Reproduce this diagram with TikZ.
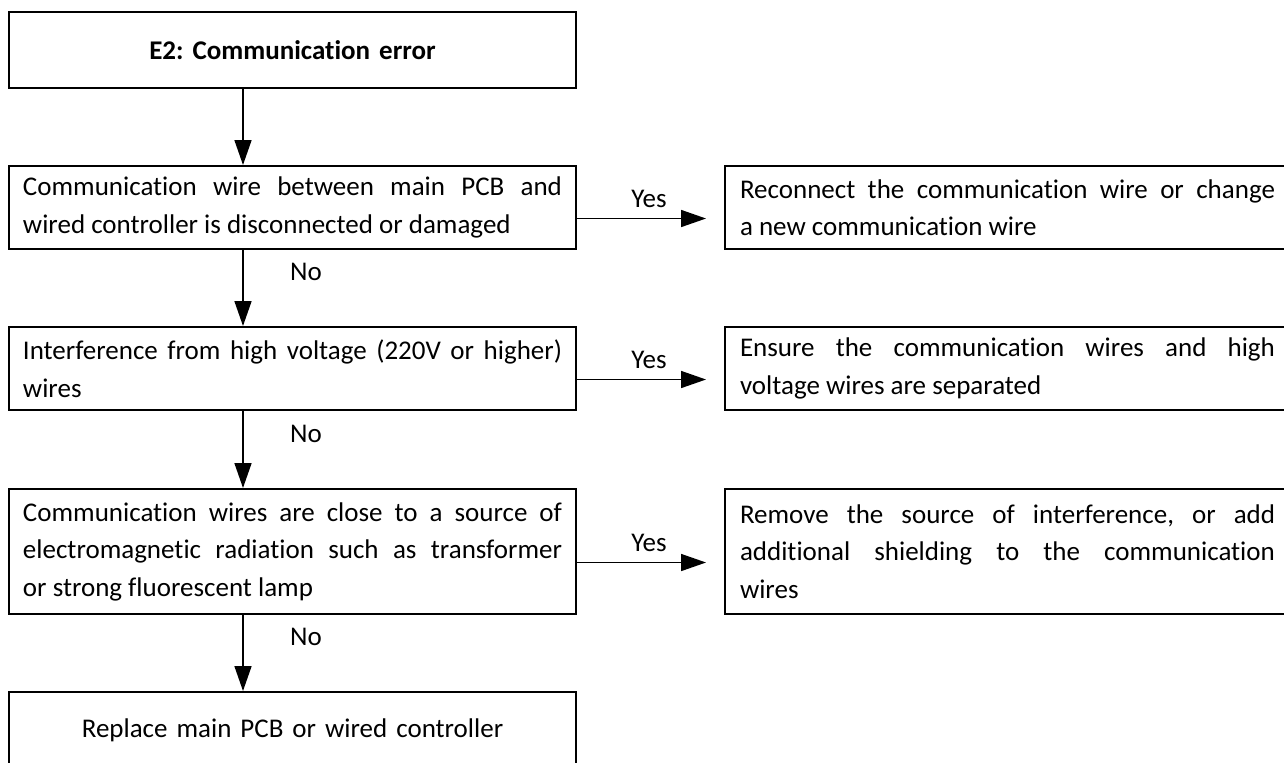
\documentclass[tikz,border=0pt]{standalone}
\usepackage{fontspec}
\setmainfont[Ligatures=NoCommon]{Carlito}
\usetikzlibrary{arrows.meta}
\frenchspacing
\hyphenpenalty=10000
\exhyphenpenalty=10000

\begin{document}
\begin{tikzpicture}[x=0.5pt,y=-0.5pt,
  box/.style={draw,line width=1pt,anchor=north west,inner xsep=7pt,inner ysep=0pt,
    text width=269.5pt,align=justify,minimum height=41.5pt,
    font=\fontsize{13.5}{18.75}\selectfont},
  fix/.style={box,text width=267.5pt,inner xsep=7.5pt},
  arr/.style={line width=0.8pt,-{Triangle[length=12.5pt,width=8.5pt]}},
  lbl/.style={font=\fontsize{13.5}{16}\selectfont,inner sep=0pt}]
  %\draw[step=100,gray,very thin] (0,0) grid (1284,762);
  \useasboundingbox (0,0) rectangle (1284,762);
  \clip (0,0) rectangle (1284,762);

  \coordinate (spine) at (243,0);

  %error
  \node[box,align=center,minimum height=38pt,font=\fontsize{13.5}{18.75}\selectfont\bfseries] (start) at (8,11) {E2: Communication error};

  %checks
  \node[box] (wire) at (8,165) {Communication wire between main PCB and\linebreak wired controller is disconnected or damaged};
  \node[box] (volt) at (8,326) {Interference from high voltage (220V or higher)\linebreak wires};
  \node[box,minimum height=62.5pt] (emr) at (8,488) {Communication wires are close to a source of\linebreak electromagnetic radiation such as transformer\linebreak or strong fluorescent lamp};
  \node[box,align=center,minimum height=38pt] (swap) at (8,691) {Replace main PCB or wired controller};

  %fixes
  \node[fix] (rewire) at (724,165) {Reconnect the communication wire or change\linebreak a new communication wire};
  \node[fix] (apart) at (724,326) {Ensure the communication wires and high\linebreak voltage wires are separated};
  \node[fix,minimum height=62.5pt] (shield) at (724,488) {Remove the source of interference, or add\linebreak additional shielding to the communication\linebreak wires};

  %no path
  \draw[arr] (start.south -| spine) -- (wire.north -| spine);
  \draw[arr] (wire.south -| spine) -- (volt.north -| spine);
  \draw[arr] (volt.south -| spine) -- (emr.north -| spine);
  \draw[arr] (emr.south -| spine) -- (swap.north -| spine);
  \node[lbl] (no1) at (306,272) {No};
  \node[lbl] (no2) at (306,434) {No};
  \node[lbl] (no3) at (306,637) {No};

  %yes path
  \draw[arr,shorten >=9pt] ([yshift=-5.5pt]wire.east) -- ([yshift=-5.5pt]rewire.west);
  \draw[arr,shorten >=9pt] ([yshift=-5.5pt]volt.east) -- ([yshift=-5.5pt]apart.west);
  \draw[arr,shorten >=9pt] ([yshift=-5.5pt]emr.east) -- ([yshift=-5.5pt]shield.west);
  \node[lbl] (yes1) at (649,199) {Yes};
  \node[lbl] (yes2) at (649,360) {Yes};
  \node[lbl] (yes3) at (649,543) {Yes};

\end{tikzpicture}
\end{document}
